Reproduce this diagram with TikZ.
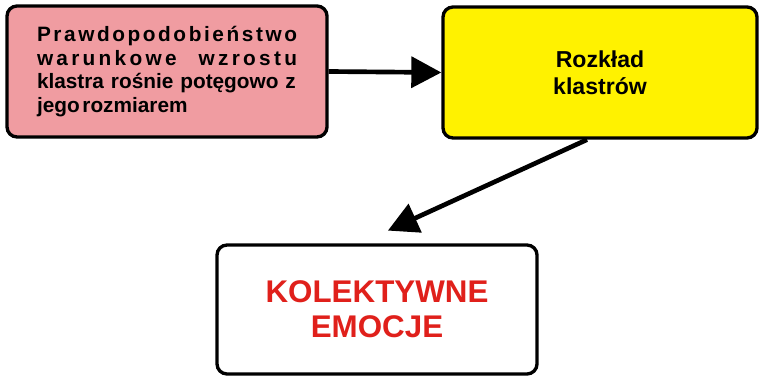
\documentclass[tikz,border=0pt]{standalone}
\usepackage{fontspec}
\setmainfont{Liberation Sans}
\usetikzlibrary{arrows.meta}

\definecolor{boxpink}{RGB}{240,156,161}
\definecolor{boxyellow}{RGB}{255,242,0}
\definecolor{emored}{RGB}{224,32,27}

\begin{document}
\begin{tikzpicture}[x=7.5pt, y=7.5pt,
  box/.style={draw, line width=2.5pt, rounded corners=7.5pt, align=center, font=\bfseries, inner sep=0pt},
  link/.style={line width=3.5pt, -{Triangle[length=22.5pt, width=23pt]}}]

% Frame
\useasboundingbox (0,0) rectangle (75.9,37.5);

%%%%%%%%%%%%%%%%%%%%%%%%%%%%%%%%%%%%%%%%%%%%%%%%%%%%%%%%%%%%%%%%
% Boxes
%%%%%%%%%%%%%%%%%%%%%%%%%%%%%%%%%%%%%%%%%%%%%%%%%%%%%%%%%%%%%%%%

\node[box, fill=boxpink, minimum width=240pt, minimum height=98.25pt, text width=195pt, align=left,
  font=\bfseries\fontsize{15.6}{17.6}\selectfont] (wzrost) at (16.7,30.35)
  {\makebox[\linewidth][s]{P\hfill r\hfill a\hfill w\hfill d\hfill o\hfill p\hfill o\hfill d\hfill o\hfill b\hfill i\hfill e\hfill ń\hfill s\hfill t\hfill w\hfill o}\\
   \makebox[\linewidth][s]{w\hfill a\hfill r\hfill u\hfill n\hfill k\hfill o\hfill w\hfill e\hspace{14pt}\hfill w\hfill z\hfill r\hfill o\hfill s\hfill t\hfill u}\\
   \makebox[\linewidth][s]{klastra rośnie potęgowo z}\\
   jego\hspace{2pt}rozmiarem\\[4pt]};

\node[box, fill=boxyellow, minimum width=235.5pt, minimum height=98.25pt,
  font=\bfseries\fontsize{17.3}{20.25}\selectfont] (rozklad) at (60.0,30.25)
  {Rozkład\\klastrów};

\node[box, fill=white, minimum width=240pt, minimum height=96.75pt, text=emored,
  font=\bfseries\fontsize{23.5}{26.25}\selectfont] (emocje) at (37.7,6.55)
  {KOLEKTYWNE\\EMOCJE};

%%%%%%%%%%%%%%%%%%%%%%%%%%%%%%%%%%%%%%%%%%%%%%%%%%%%%%%%%%%%%%%%
% Arrows
%%%%%%%%%%%%%%%%%%%%%%%%%%%%%%%%%%%%%%%%%%%%%%%%%%%%%%%%%%%%%%%%

\draw[link] (wzrost.east) -- (rozklad.west);
\draw[link, shorten >=23pt] ([xshift=-9.75pt]rozklad.south) -- ([xshift=-12.75pt]emocje.north);

\end{tikzpicture}
\end{document}
